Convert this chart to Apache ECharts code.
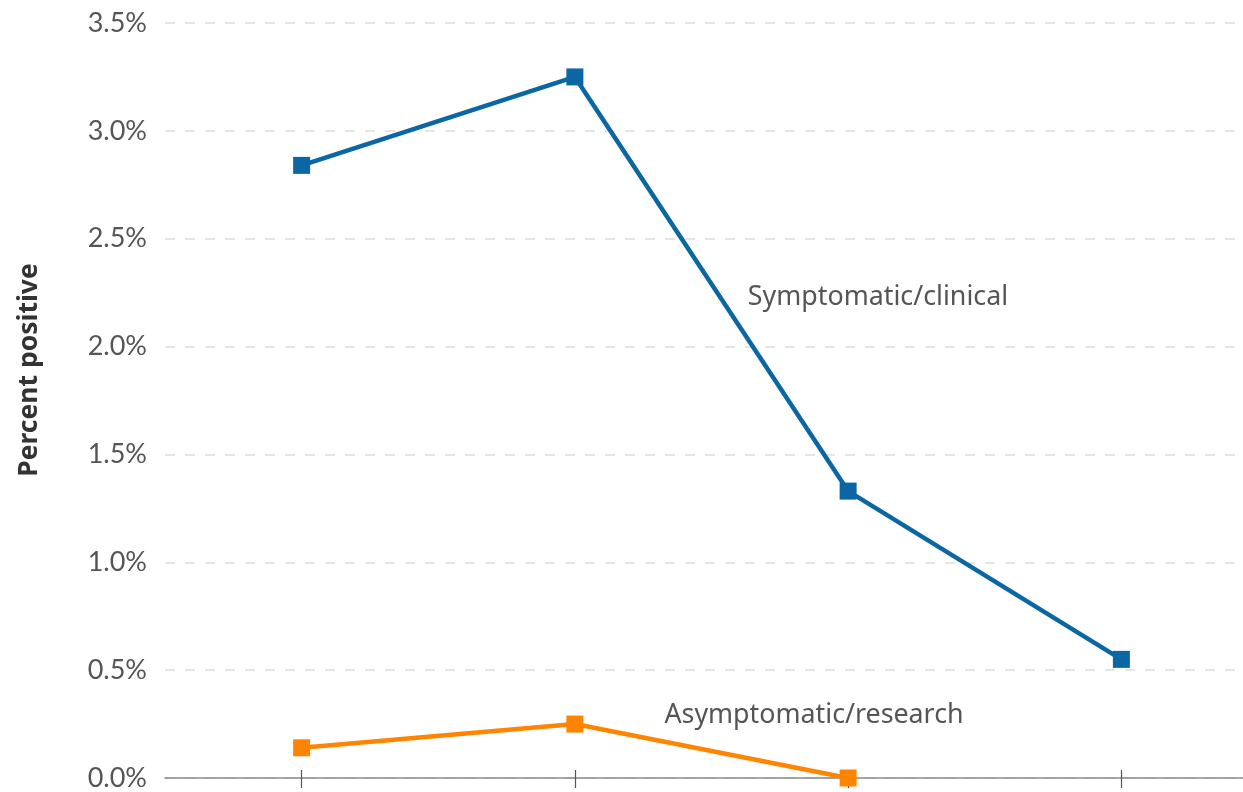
<!DOCTYPE html>
<html>
<head>
<meta charset="utf-8">
<script src="https://cdn.jsdelivr.net/npm/echarts@6/dist/echarts.min.js"></script>
<style>html,body{margin:0;padding:0;background:#fff;overflow:hidden;width:1243px;height:792px}#c{width:1258px;height:792px}</style>
</head>
<body>
<div id="c"></div>
<script>
const categories = ['1', '2', '3', '4'];
const symptomatic = [2.84, 3.25, 1.33, 0.55];
const asymptomatic = [0.14, 0.25, 0.0, null];
const yTicks = { min: 0, max: 3.5, interval: 0.5 };
const seriesNames = ['Symptomatic/clinical', 'Asymptomatic/research'];
const yTitle = 'Percent positive';

const FONT = 'Lato';
const LFONT = 'Noto Sans';
const chart = echarts.init(document.getElementById('c'));
chart.setOption({
  animation: false,
  backgroundColor: '#fff',
  grid: { left: 165, right: 0, top: 23, bottom: 14, containLabel: false },
  xAxis: [{
    type: 'category', data: categories, boundaryGap: true,
    axisLine: { show: true, lineStyle: { color: '#888', width: 1.5 } },
    axisTick: { show: true, alignWithLabel: true, length: 10, lineStyle: { color: '#555', width: 1.2 } },
    axisLabel: { show: false }, splitLine: { show: false }
  }, {
    type: 'category', data: categories, boundaryGap: true, position: 'bottom', offset: 0,
    axisLine: { show: false },
    axisTick: { show: true, inside: true, alignWithLabel: true, length: 8, lineStyle: { color: '#555', width: 1.2 } },
    axisLabel: { show: false }, splitLine: { show: false }
  }],
  yAxis: {
    type: 'value', min: yTicks.min, max: yTicks.max, interval: yTicks.interval,
    axisLine: { show: false }, axisTick: { show: false },
    axisLabel: { formatter: v => v.toFixed(1) + '%', fontFamily: FONT, fontSize: 27, color: '#555', margin: 18 },
    splitLine: { lineStyle: { color: '#ddd', type: [10, 10], width: 1.5 } }
  },
  series: [{
    name: seriesNames[0], type: 'line', data: symptomatic,
    symbol: 'rect', symbolSize: 17, color: '#0b67a3',
    lineStyle: { width: 4.5, color: '#0b67a3' }, itemStyle: { color: '#0b67a3' }
  }, {
    name: seriesNames[1], type: 'line', data: asymptomatic,
    symbol: 'rect', symbolSize: 17, color: '#ff8400',
    lineStyle: { width: 4.5, color: '#ff8400' }, itemStyle: { color: '#ff8400' }
  }],
  graphic: [
    { type: 'text', x: 29, y: 370, rotation: Math.PI / 2, style: { text: yTitle, fontFamily: LFONT, fontWeight: 'bold', fontSize: 26.5, fill: '#333', align: 'center', verticalAlign: 'middle' } },
    { type: 'text', x: 878, y: 297, style: { text: seriesNames[0], fontFamily: LFONT, fontSize: 26.8, fill: '#555', align: 'center', verticalAlign: 'middle' } },
    { type: 'text', x: 814, y: 715, style: { text: seriesNames[1], fontFamily: LFONT, fontSize: 26.8, fill: '#555', align: 'center', verticalAlign: 'middle' } }
  ]
});
</script>
</body>
</html>
